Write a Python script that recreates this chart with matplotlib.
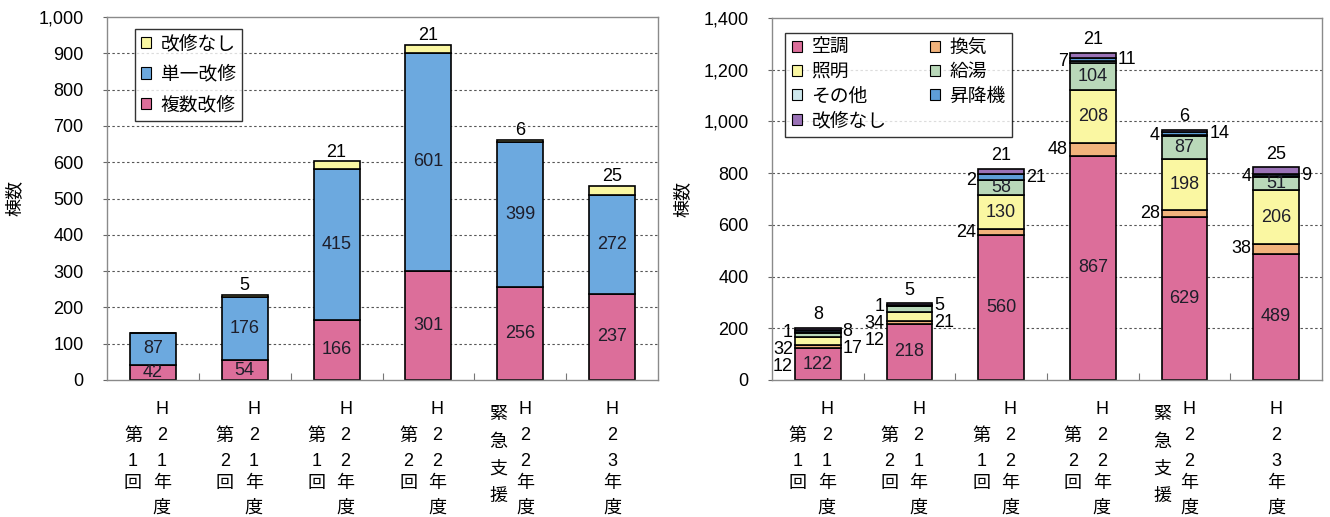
import matplotlib
matplotlib.use("Agg")
import matplotlib.pyplot as plt
from matplotlib.patches import Patch
import numpy as np

plt.rcParams['font.family'] = ['Liberation Sans', 'Noto Sans CJK JP', 'DejaVu Sans']

# ---- data ----
categories = ["第1回 H21年度", "第2回 H21年度", "第1回 H22年度",
              "第2回 H22年度", "緊急支援 H22年度", "H23年度"]

# left: number of buildings by renovation type
fukusu = [42, 54, 166, 301, 256, 237]     # 複数改修
tanitsu = [87, 176, 415, 601, 399, 272]   # 単一改修
nashi_l = [0, 5, 21, 21, 6, 25]           # 改修なし

# right: number of buildings by renovated equipment
kucho = [122, 218, 560, 867, 629, 489]    # 空調
kanki = [12, 12, 24, 48, 28, 38]          # 換気
shomei = [32, 34, 130, 208, 198, 206]     # 照明
kyuto = [17, 21, 58, 104, 87, 51]         # 給湯
sonota = [1, 1, 2, 7, 4, 4]               # その他
shokoki = [8, 5, 21, 11, 14, 9]           # 昇降機
nashi_r = [8, 5, 21, 21, 6, 25]           # 改修なし

left_ticks = [0, 100, 200, 300, 400, 500, 600, 700, 800, 900, 1000]
right_ticks = [0, 200, 400, 600, 800, 1000, 1200, 1400]

# ---- styling ----
PINK = '#DC6E9A'
BLUE = '#6CA9DF'
YELLOW = '#FAF7A2'
ORANGE = '#F1B37C'
GREEN = '#B9D8B9'
LIGHT = '#CDE7EC'
LIFT = '#5E9ED8'
PURPLE = '#9A72B6'
FS = 13
LEG_FS = 13.5
BAR_W = 0.5
EDGE = dict(edgecolor='black', linewidth=1.2)

W, H = 1330, 517
fig = plt.figure(figsize=(W / 100, H / 100), dpi=100)
axL = fig.add_axes([107 / W, 1 - 380 / H, 551 / W, 363 / H])
axR = fig.add_axes([772 / W, 1 - 380 / H, 550 / W, 362 / H])

x = np.arange(len(categories))


def style_axes(ax, ticks):
    ax.set_xlim(-0.5, len(categories) - 0.5)
    ax.set_ylim(ticks[0], ticks[-1])
    ax.set_yticks(ticks)
    ax.set_yticklabels([f"{t:,}" for t in ticks], fontsize=FS)
    ax.tick_params(axis='y', direction='out', length=3, width=0.8,
                   pad=14, color='#666666')
    ax.set_xticks([])
    ax.set_xticks(np.arange(0.5, len(categories) - 0.5), minor=True)
    ax.tick_params(axis='x', which='minor', direction='in', length=5,
                   width=0.8, color='#777777')
    for t in ticks[1:-1]:
        ax.axhline(t, color='#555555', lw=0.8, ls=(0, (2.2, 2.2)), zorder=0)
    for s in ax.spines.values():
        s.set_color('#8a8a8a')
        s.set_linewidth(1.0)
    ax.set_axisbelow(True)


def px2pt(v):
    return v * 72 / 100


def category_labels(ax):
    rows = [30, 56, 81, 104, 128]
    tr = ax.get_xaxis_transform()

    def put(ch, i, dx, dy):
        ax.annotate(ch, xy=(i, 0), xycoords=tr,
                    xytext=(px2pt(dx), -px2pt(dy)), textcoords='offset points',
                    ha='center', va='center', fontsize=FS, annotation_clip=False)

    for i, cat in enumerate(categories):
        parts = cat.split(' ')
        if len(parts) == 2:
            head, year = parts
            ycol = list(year.replace('年度', '')) + ['年', '度']
            if head.startswith('第'):
                dx_l, dx_r = -20, 9
                for ch, r in zip(list(head), rows[1:4]):
                    put(ch, i, dx_l, r)
            else:
                dx_l, dx_r = -22, 5
                for ch, r in zip(list(head), [35, 62, 89, 116]):
                    put(ch, i, dx_l, r)
            for ch, r in zip(ycol, rows):
                put(ch, i, dx_r, r)
        else:
            ycol = list(cat.replace('年度', '')) + ['年', '度']
            for ch, r in zip(ycol, rows):
                put(ch, i, 0, r)


def stack_down(centers, gap):
    """Keep labels at least `gap` apart, pushing lower ones downward."""
    order = sorted(range(len(centers)), key=lambda k: -centers[k])
    pos = [0.0] * len(centers)
    prev = None
    for k in order:
        p = centers[k] if prev is None else min(centers[k], prev - gap)
        pos[k] = p
        prev = p
    return pos


def legend_kw():
    return dict(frameon=True, fancybox=False, edgecolor='black',
                fontsize=LEG_FS, handlelength=0.55, handleheight=0.55,
                handletextpad=0.5, borderpad=0.35, borderaxespad=0)


# ---- left chart ----
style_axes(axL, left_ticks)
series_L = [(fukusu, PINK, '複数改修'), (tanitsu, BLUE, '単一改修'),
            (nashi_l, YELLOW, '改修なし')]
bottom = np.zeros(len(x))
for vals, col, name in series_L:
    v = np.array(vals, dtype=float)
    axL.bar(x, v, BAR_W, bottom=bottom, color=col, **EDGE, zorder=2)
    for i in range(len(x)):
        if name == '改修なし':
            if v[i] > 0:
                axL.annotate(f"{vals[i]}", xy=(x[i], bottom[i] + v[i]),
                             xytext=(0, 0.5), textcoords='offset points',
                             ha='center', va='bottom', fontsize=FS, zorder=4)
        else:
            axL.text(x[i], bottom[i] + v[i] / 2, f"{vals[i]}", ha='center',
                     va='center', fontsize=FS, color='#1e1e2a', zorder=4)
    bottom += v

axL.set_ylabel('棟数', fontsize=FS)
axL.yaxis.set_label_coords(-0.152, 0.5)
legL = axL.legend(handles=[Patch(facecolor=c, edgecolor='black', lw=0.8, label=n)
                           for _, c, n in series_L[::-1]],
                  loc='upper left', bbox_to_anchor=(0.05, 0.968),
                  labelspacing=0.68, **legend_kw())
legL.get_frame().set_linewidth(1.0)
category_labels(axL)

# ---- right chart ----
style_axes(axR, right_ticks)
series_R = [(kucho, PINK, '空調'), (kanki, ORANGE, '換気'),
            (shomei, YELLOW, '照明'), (kyuto, GREEN, '給湯'),
            (sonota, LIGHT, 'その他'), (shokoki, LIFT, '昇降機'),
            (nashi_r, PURPLE, '改修なし')]
px_per_unit = 362 / (right_ticks[-1] - right_ticks[0])
gap = 17 / px_per_unit

bottom = np.zeros(len(x))
placements = [dict(left=[], right=[], inside=[], top=[]) for _ in x]
for vals, col, name in series_R:
    v = np.array(vals, dtype=float)
    axR.bar(x, v, BAR_W, bottom=bottom, color=col, **EDGE, zorder=2)
    for i in range(len(x)):
        c = bottom[i] + v[i] / 2
        if name == '改修なし':
            placements[i]['top'].append((bottom[i] + v[i], vals[i]))
        elif name == '空調':
            placements[i]['inside'].append((c, vals[i]))
        elif name in ('換気', 'その他'):
            placements[i]['left'].append((c, vals[i]))
        elif name == '昇降機':
            placements[i]['right'].append((c, vals[i]))
        else:
            if v[i] >= 45:
                placements[i]['inside'].append((c, vals[i]))
            elif name == '照明':
                placements[i]['left'].append((c, vals[i]))
            else:
                placements[i]['right'].append((c, vals[i]))
    bottom += v

for i, pl in enumerate(placements):
    for c, val in pl['inside']:
        axR.text(x[i], c, f"{val}", ha='center', va='center', fontsize=FS,
                 color='#1e1e2a', zorder=4)
    for side, ha, dx in (('left', 'right', -BAR_W / 2 - 0.02),
                         ('right', 'left', BAR_W / 2 + 0.02)):
        items = pl[side]
        if not items:
            continue
        ys = stack_down([c for c, _ in items], gap)
        for (c, val), yy in zip(items, ys):
            axR.text(x[i] + dx, yy, f"{val}", ha=ha, va='center', fontsize=FS,
                     zorder=4)
    for top, val in pl['top']:
        axR.annotate(f"{val}", xy=(x[i], top), xytext=(0, 3.5),
                     textcoords='offset points', ha='center', va='bottom',
                     fontsize=FS, zorder=4)

axR.set_ylabel('棟数', fontsize=FS)
axR.yaxis.set_label_coords(-0.147, 0.5)
order = [0, 2, 4, 6, 1, 3, 5]
legR = axR.legend(handles=[Patch(facecolor=series_R[k][1], edgecolor='black',
                                 lw=0.8, label=series_R[k][2]) for k in order],
                  ncol=2, loc='upper left', bbox_to_anchor=(0.024, 0.958),
                  labelspacing=0.38, columnspacing=2.3, **legend_kw())
legR.get_frame().set_linewidth(1.0)
category_labels(axR)

fig.savefig('out.png', dpi=100, facecolor='white')
